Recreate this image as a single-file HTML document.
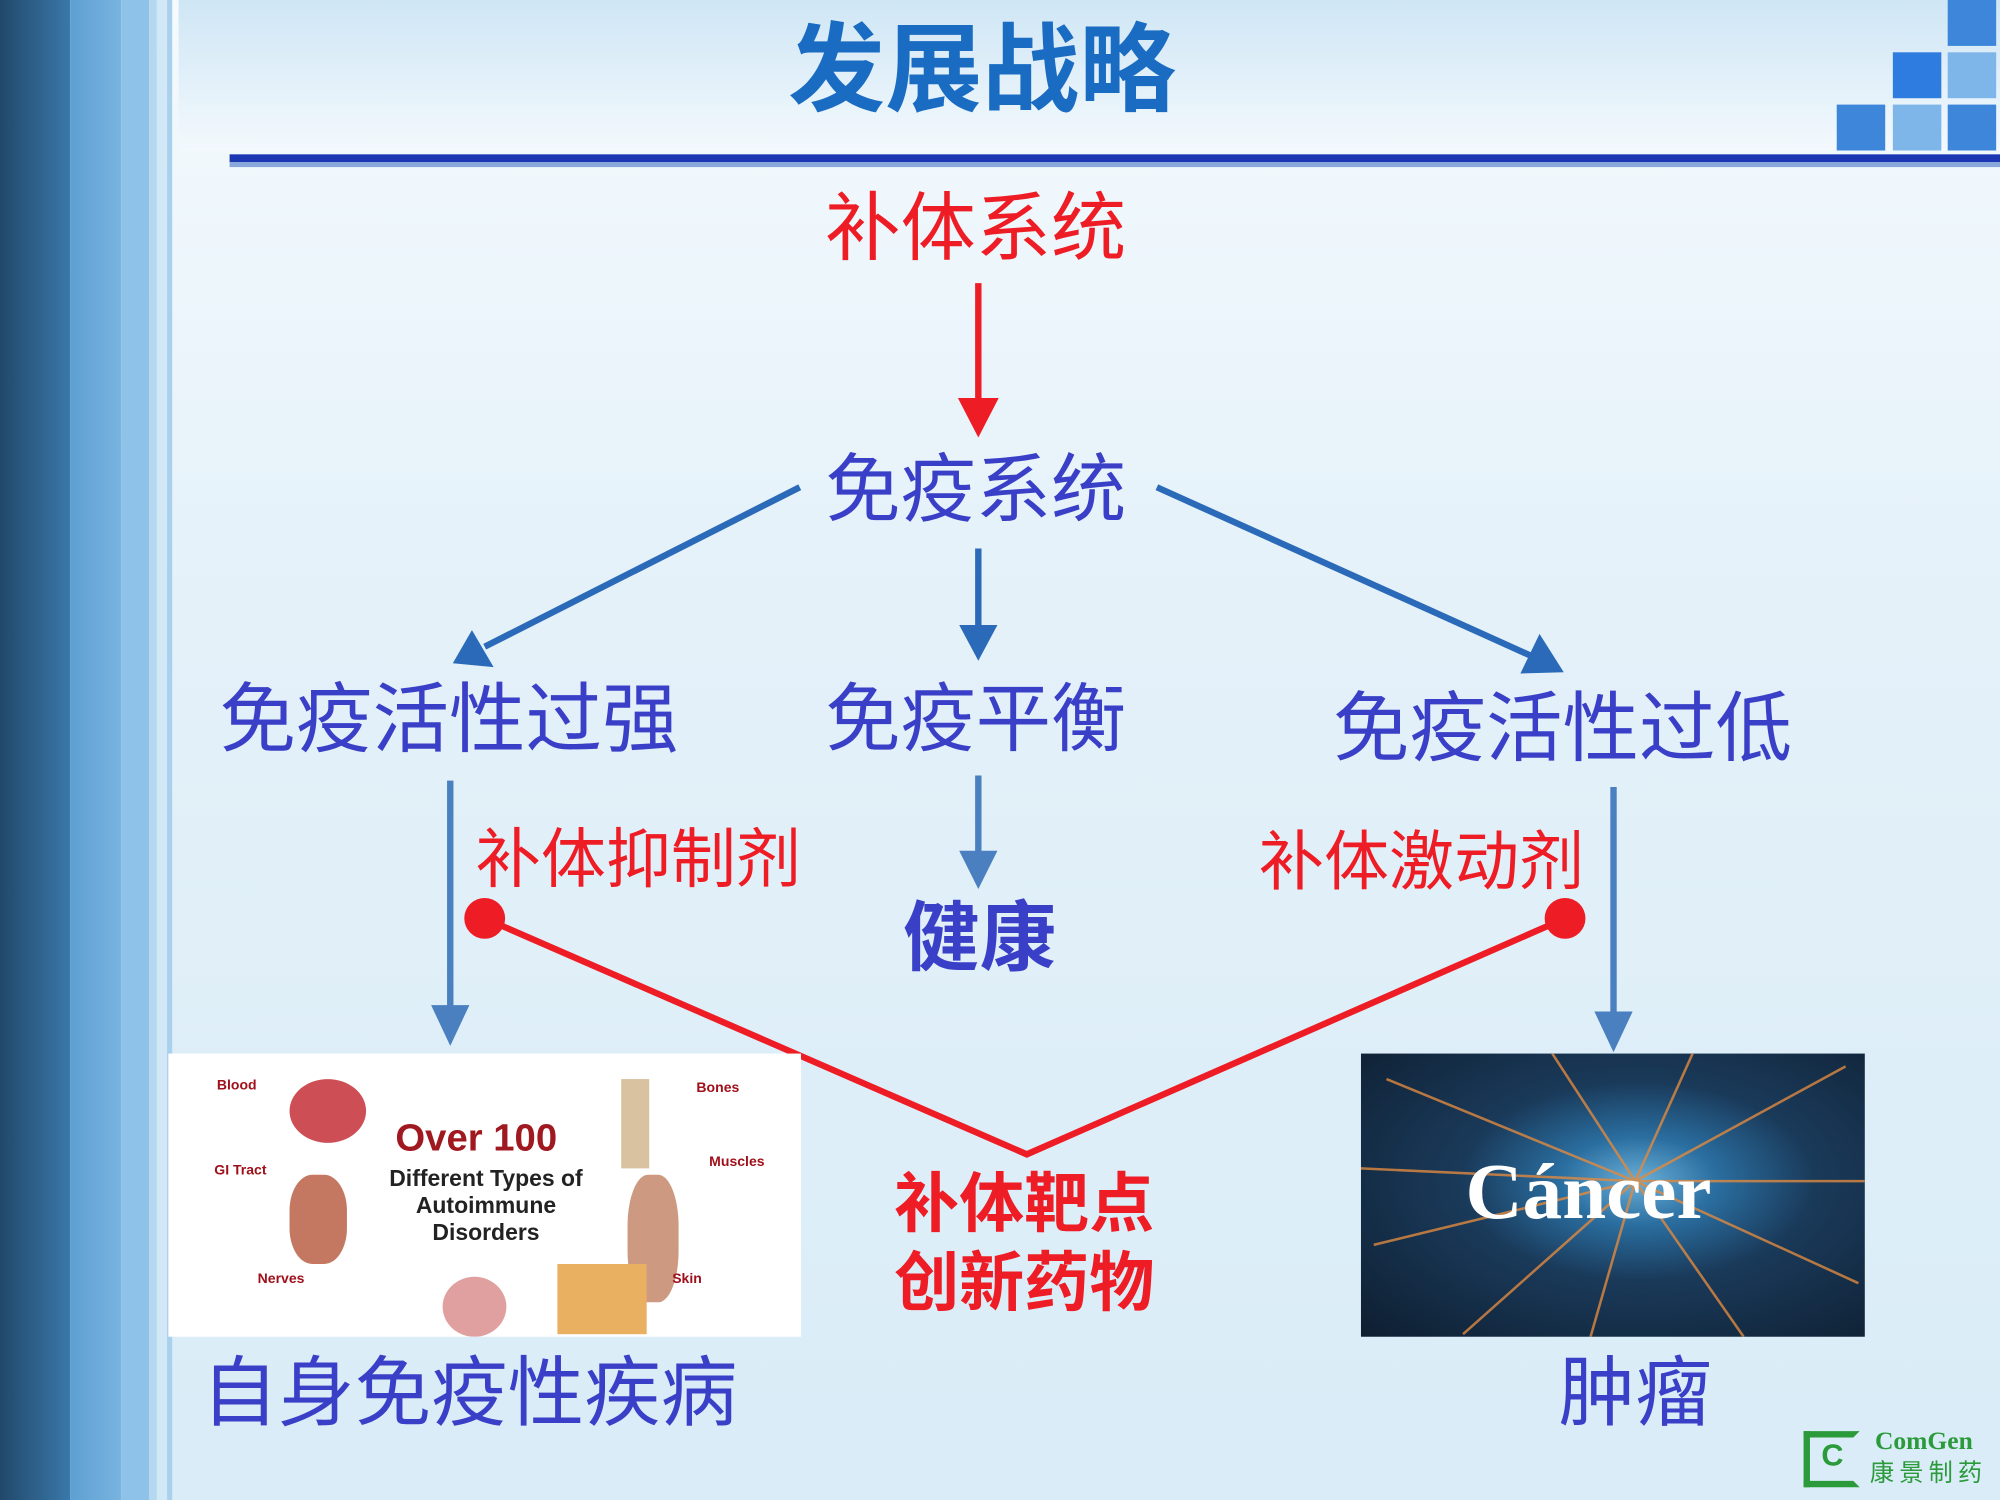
<!DOCTYPE html>
<html><head><meta charset="utf-8">
<style>
html,body{margin:0;padding:0;width:2000px;height:1500px;overflow:hidden;background:#e6f2fa}
#s{position:absolute;left:0;top:0;width:1568px;height:1176px;transform:scale(1.27551);transform-origin:0 0;
background:linear-gradient(180deg,#f4fafd 0%,#e4f1f9 40%,#d9ecf7 100%);font-family:"Liberation Sans","Noto Sans CJK SC",sans-serif;overflow:hidden}
.t{position:absolute;white-space:nowrap;line-height:1}
.b{color:#3a3fc8}
.r{color:#ee1c24}
</style></head><body>
<div id="s">
<!-- sidebar -->
<div style="position:absolute;left:0;top:0;width:55px;height:1176px;background:linear-gradient(90deg,#21486a,#3a78aa)"></div>
<div style="position:absolute;left:55px;top:0;width:40px;height:1176px;background:linear-gradient(90deg,#5d9fd2,#79b4e0)"></div>
<div style="position:absolute;left:95px;top:0;width:22px;height:1176px;background:#8fc2e8"></div>
<div style="position:absolute;left:117px;top:0;width:6px;height:1176px;background:#b5d8f0"></div>
<div style="position:absolute;left:123px;top:0;width:8px;height:1176px;background:#d2e8f6"></div>
<div style="position:absolute;left:131px;top:0;width:4px;height:1176px;background:#a9d0ec"></div>
<!-- top band -->
<div style="position:absolute;left:140px;top:0;width:1428px;height:118px;background:linear-gradient(180deg,#cfe6f5,#f3f9fd)"></div>
<div class="t" style="left:618px;top:18px;font-size:76px;color:#1a6cc2;font-weight:bold">发展战略</div>
<!-- squares -->
<div style="position:absolute;left:1527px;top:0;width:38px;height:36px;background:#3d86da"></div>
<div style="position:absolute;left:1484px;top:41px;width:38px;height:36px;background:#2f7ce0"></div>
<div style="position:absolute;left:1527px;top:41px;width:38px;height:36px;background:#7fb6ea"></div>
<div style="position:absolute;left:1440px;top:82px;width:38px;height:36px;background:#3d86da"></div>
<div style="position:absolute;left:1484px;top:82px;width:38px;height:36px;background:#7fb6ea"></div>
<div style="position:absolute;left:1527px;top:82px;width:38px;height:36px;background:#3d86da"></div>
<div style="position:absolute;left:180px;top:121px;width:1388px;height:6px;background:#1a36b0"></div>
<div style="position:absolute;left:180px;top:127px;width:1388px;height:4px;background:#8aa7dc"></div>

<svg style="position:absolute;left:0;top:0" width="1568" height="1176">
<defs>
<marker id="ar" markerWidth="10" markerHeight="10" refX="6" refY="5" orient="auto" markerUnits="userSpaceOnUse" viewBox="0 0 10 10"><path d="M0,0 L10,5 L0,10 z" fill="#ee1c24"/></marker>
</defs>
<line x1="767" y1="222" x2="767" y2="315" stroke="#ee1c24" stroke-width="5"/>
<polygon points="751,312 783,312 767,343" fill="#ee1c24"/>
<g stroke="#2a6ab8" stroke-width="5" fill="#2a6ab8">
<line x1="627" y1="382" x2="380" y2="507"/>
<polygon points="355,520 370,494 387,523" stroke="none"/>
<line x1="767" y1="430" x2="767" y2="492"/>
<polygon points="752,490 782,490 767,518" stroke="none"/>
<line x1="907" y1="382" x2="1200" y2="514"/>
<polygon points="1226,527 1192,528 1207,497" stroke="none"/>
</g>
<g stroke="#4a7fc0" stroke-width="5" fill="#4a7fc0">
<line x1="353" y1="612" x2="353" y2="792"/>
<polygon points="338,788 368,788 353,820" stroke="none"/>
<line x1="767" y1="608" x2="767" y2="670"/>
<polygon points="752,667 782,667 767,697" stroke="none"/>
<line x1="1265" y1="617" x2="1265" y2="797"/>
<polygon points="1250,793 1280,793 1265,825" stroke="none"/>
</g>
<polyline points="380,720 805,905 1227,720" fill="none" stroke="#ee1c24" stroke-width="5"/>
<circle cx="380" cy="720" r="16" fill="#ee1c24"/>
<circle cx="1227" cy="720" r="16" fill="#ee1c24"/>
</svg>

<div class="t r" style="left:647px;top:150px;font-size:59px">补体系统</div>
<div class="t b" style="left:647px;top:355px;font-size:59px">免疫系统</div>
<div class="t b" style="left:172px;top:535px;font-size:60px">免疫活性过强</div>
<div class="t b" style="left:647px;top:535px;font-size:59px">免疫平衡</div>
<div class="t b" style="left:1045px;top:542px;font-size:60px">免疫活性过低</div>
<div class="t r" style="left:373px;top:648px;font-size:51px">补体抑制剂</div>
<div class="t r" style="left:987px;top:650px;font-size:51px">补体激动剂</div>
<div class="t b" style="left:708px;top:706px;font-size:60px;font-weight:bold">健康</div>
<div class="t r" style="left:701px;top:918px;font-size:51px;font-weight:bold">补体靶点</div>
<div class="t r" style="left:701px;top:980px;font-size:51px;font-weight:bold">创新药物</div>

<!-- left image -->
<div style="position:absolute;left:132px;top:826px;width:496px;height:222px;background:#fff;overflow:hidden">
<div style="position:absolute;left:95px;top:20px;width:60px;height:50px;border-radius:50%;background:#c0222a;opacity:.8"></div>
<div style="position:absolute;left:95px;top:95px;width:45px;height:70px;border-radius:40%;background:#b5563a;opacity:.8"></div>
<div style="position:absolute;left:355px;top:20px;width:22px;height:70px;background:#d9c2a0"></div>
<div style="position:absolute;left:360px;top:95px;width:40px;height:100px;border-radius:40%;background:#c08060;opacity:.8"></div>
<div style="position:absolute;left:305px;top:165px;width:70px;height:55px;background:#e8b060"></div>
<div style="position:absolute;left:215px;top:175px;width:50px;height:47px;border-radius:50%;background:#e0a0a0"></div>
<div class="t" style="left:38px;top:20px;font-size:11px;font-weight:bold;color:#a0101a">Blood</div>
<div class="t" style="left:36px;top:87px;font-size:11px;font-weight:bold;color:#a0101a">GI Tract</div>
<div class="t" style="left:70px;top:172px;font-size:11px;font-weight:bold;color:#a0101a">Nerves</div>
<div class="t" style="left:414px;top:22px;font-size:11px;font-weight:bold;color:#a0101a">Bones</div>
<div class="t" style="left:424px;top:80px;font-size:11px;font-weight:bold;color:#a0101a">Muscles</div>
<div class="t" style="left:395px;top:172px;font-size:11px;font-weight:bold;color:#a0101a">Skin</div>
<div class="t" style="left:178px;top:52px;font-size:30px;font-weight:bold;color:#a01820">Over 100</div>
<div class="t" style="left:164px;top:88px;font-size:18px;font-weight:bold;color:#222;text-align:center;width:170px;line-height:21px;white-space:normal">Different Types of Autoimmune Disorders</div>
</div>

<!-- right image -->
<div style="position:absolute;left:1067px;top:826px;width:395px;height:222px;overflow:hidden;background:radial-gradient(ellipse at 55% 45%,#6ab0d8 0%,#2a6ea0 20%,#1a3a5a 45%,#0e1e30 100%)">
<svg width="395" height="222" style="position:absolute;left:0;top:0">
<g stroke="#e08a40" stroke-width="2" opacity=".8">
<line x1="215" y1="100" x2="20" y2="20"/><line x1="215" y1="100" x2="10" y2="150"/><line x1="215" y1="100" x2="80" y2="220"/>
<line x1="215" y1="100" x2="380" y2="10"/><line x1="215" y1="100" x2="390" y2="180"/><line x1="215" y1="100" x2="300" y2="222"/>
<line x1="215" y1="100" x2="150" y2="0"/><line x1="215" y1="100" x2="260" y2="0"/><line x1="215" y1="100" x2="0" y2="90"/>
<line x1="215" y1="100" x2="395" y2="100"/><line x1="215" y1="100" x2="180" y2="222"/>
</g>
</svg>
<div class="t" style="left:82px;top:78px;font-size:62px;font-weight:bold;color:#fff;font-family:'Liberation Serif',serif">Cáncer</div>
</div>

<div class="t b" style="left:158px;top:1063px;font-size:60px">自身免疫性疾病</div>
<div class="t b" style="left:1222px;top:1063px;font-size:60px">肿瘤</div>

<!-- logo -->
<div style="position:absolute;left:1414px;top:1122px;width:44px;height:44px;border:5px solid #2a9a3a;box-sizing:border-box;border-right-color:transparent"></div>
<div class="t" style="left:1428px;top:1130px;font-size:24px;font-weight:bold;color:#2a9a3a">C</div>
<div class="t" style="left:1470px;top:1120px;font-size:20px;font-weight:bold;color:#2a9a3a;font-family:'Liberation Serif',serif">ComGen</div>
<div class="t" style="left:1466px;top:1146px;font-size:19px;color:#2a9a3a;letter-spacing:4px">康景制药</div>
</div>
</body></html>
